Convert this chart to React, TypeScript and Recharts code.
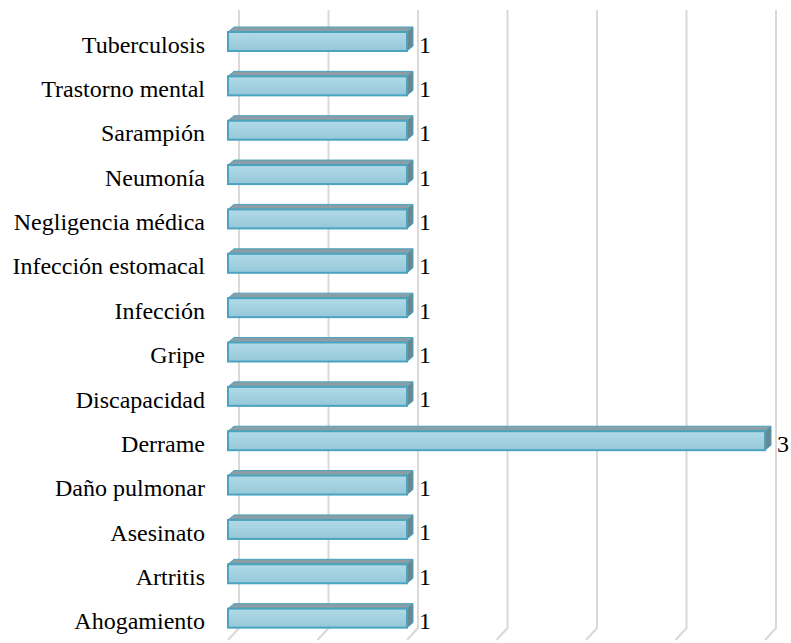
import { Bar, BarChart, CartesianGrid, LabelList, XAxis, YAxis } from "recharts";

const causes = [
  "Tuberculosis",
  "Trastorno mental",
  "Sarampión",
  "Neumonía",
  "Negligencia médica",
  "Infección estomacal",
  "Infección",
  "Gripe",
  "Discapacidad",
  "Derrame",
  "Daño pulmonar",
  "Asesinato",
  "Artritis",
  "Ahogamiento"
];
const counts = [1, 1, 1, 1, 1, 1, 1, 1, 1, 3, 1, 1, 1, 1];
const xTicks = [0, 0.5, 1, 1.5, 2, 2.5, 3];

const data = causes.map((name, i) => ({ name, value: counts[i] }));

const FONT = "Liberation Serif";
const FONT_SIZE = 24;
const DEPTH_X = 6;
const DEPTH_Y = 5;

function Bar3D(props: any) {
  const { x, y, width, height } = props;
  if (!width || width <= 0) return null;
  const r = x + width;
  return (
    <g>
      <polygon
        points={`${x},${y + DEPTH_Y} ${x + DEPTH_X},${y} ${r + DEPTH_X},${y} ${r},${y + DEPTH_Y}`}
        fill="#8c9ea5"
        stroke="#4aa3bf"
        strokeWidth={1}
      />
      <polygon
        points={`${r},${y + DEPTH_Y} ${r + DEPTH_X},${y} ${r + DEPTH_X},${y + height - DEPTH_Y} ${r},${y + height}`}
        fill="#6b8890"
        stroke="#4aa3bf"
        strokeWidth={1}
      />
      <rect
        x={x}
        y={y + DEPTH_Y}
        width={width}
        height={height - DEPTH_Y}
        fill="url(#frontFace)"
        stroke="#4aa3bf"
        strokeWidth={2}
      />
    </g>
  );
}

function GridLine(props: any) {
  const { x1, y1, y2 } = props;
  const bx = x1 + 11;
  return (
    <path
      d={`M${bx},${y1 - 7} L${bx},${y2 - 10} L${x1},${y2 + 2}`}
      fill="none"
      stroke="#d9d9d9"
      strokeWidth={2}
    />
  );
}

function CategoryTick(props: any) {
  const { x, y, payload } = props;
  return (
    <text
      x={x}
      y={y + 5}
      dy="0.355em"
      textAnchor="end"
      fill="#000"
      fontFamily={FONT}
      fontSize={FONT_SIZE}
      style={{ fontFamily: FONT, fontSize: FONT_SIZE }}
    >
      {payload.value}
    </text>
  );
}

function ValueLabel(props: any) {
  const { x, y, width, height, value } = props;
  return (
    <text
      x={x + width + 12}
      y={y + height / 2 + 5}
      dy="0.355em"
      fill="#000"
      fontFamily={FONT}
      fontSize={FONT_SIZE}
      style={{ fontFamily: FONT, fontSize: FONT_SIZE }}
    >
      {value}
    </text>
  );
}

function gridX({ xAxis, offset }: any) {
  if (xAxis && typeof xAxis.scale === "function") {
    return xTicks.map((t) => xAxis.scale(t));
  }
  return xTicks.map((t) => offset.left + (t / 3) * offset.width);
}

export default function App() {
  return (
    <div style={{ position: "absolute", left: 0, top: 0, background: "#fff", fontFamily: FONT }}>
      <BarChart
        width={791}
        height={643}
        data={data}
        layout="vertical"
        barSize={24}
        margin={{ top: 17, right: 26, bottom: 5, left: 0 }}
      >
        <defs>
          <linearGradient id="frontFace" x1="0" y1="0" x2="0" y2="1">
            <stop offset="0%" stopColor="#b2dae7" />
            <stop offset="100%" stopColor="#95c8d9" />
          </linearGradient>
        </defs>
        <CartesianGrid horizontal={false} vertical={GridLine} verticalCoordinatesGenerator={gridX} />
        <XAxis
          type="number"
          domain={[0, 3]}
          ticks={xTicks}
          axisLine={false}
          tickLine={false}
          tick={false}
          height={0}
        />
        <YAxis
          type="category"
          dataKey="name"
          width={228}
          axisLine={false}
          tickLine={false}
          tickSize={0}
          tickMargin={23}
          tick={<CategoryTick />}
          interval={0}
        />
        <Bar dataKey="value" shape={<Bar3D />} isAnimationActive={false}>
          <LabelList dataKey="value" content={<ValueLabel />} />
        </Bar>
      </BarChart>
    </div>
  );
}
